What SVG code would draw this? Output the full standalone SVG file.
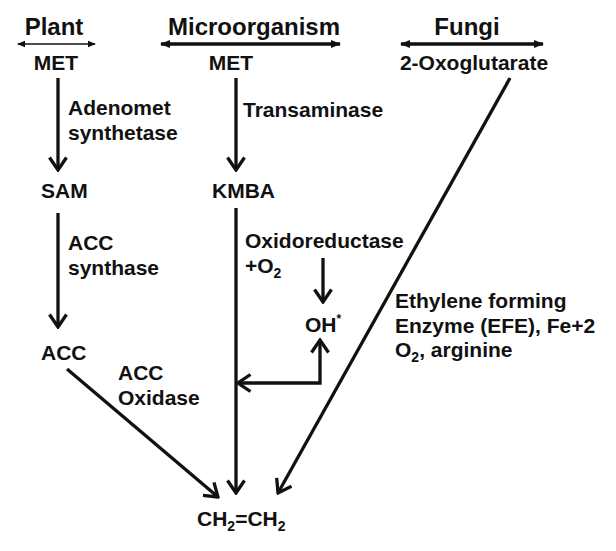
<svg xmlns="http://www.w3.org/2000/svg" width="616" height="551" viewBox="0 0 616 551">
<style>
text{font-family:"Liberation Sans",Arial,sans-serif;font-weight:bold;fill:#111;font-size:21px}
.h{font-size:24px;text-anchor:middle}
.c{text-anchor:middle}
.ln{fill:none;stroke:#111;stroke-width:3.3}
.sub{font-size:14px}
</style>
<defs>
<marker id="chev" markerUnits="userSpaceOnUse" viewBox="0 0 16 20" refX="14" refY="10" markerWidth="16" markerHeight="20" orient="auto-start-reverse">
<path d="M1.5,1.5 L14,10 L1.5,18.5" fill="none" stroke="#111" stroke-width="3.3"/>
</marker>
<marker id="tri" markerUnits="userSpaceOnUse" viewBox="0 0 10 10" refX="9" refY="5" markerWidth="10" markerHeight="10" orient="auto-start-reverse">
<path d="M0,1 L10,5 L0,9 Z" fill="#111"/>
</marker>
<marker id="trs" markerUnits="userSpaceOnUse" viewBox="0 0 8 8" refX="7" refY="4" markerWidth="8" markerHeight="8" orient="auto-start-reverse">
<path d="M0,0.8 L8,4 L0,7.2 Z" fill="#111"/>
</marker>
</defs>

<g id="headers">
<text class="h" x="54" y="35">Plant</text>
<text class="h" x="254" y="35">Microorganism</text>
<text class="h" x="467" y="35">Fungi</text>
</g>

<g id="connectors">
<line x1="18" y1="44" x2="95" y2="44" stroke="#111" stroke-width="1.6" marker-start="url(#trs)" marker-end="url(#trs)"/>
<line x1="161" y1="44" x2="340" y2="44" stroke="#111" stroke-width="3.5" marker-start="url(#tri)" marker-end="url(#tri)"/>
<line x1="401" y1="44" x2="543" y2="44" stroke="#111" stroke-width="3.5" marker-start="url(#tri)" marker-end="url(#tri)"/>

<path class="ln" d="M58,78 L58,170" marker-end="url(#chev)"/>
<path class="ln" d="M58,213 L58,327" marker-end="url(#chev)"/>
<path class="ln" d="M236,78 L236,170" marker-end="url(#chev)"/>
<path class="ln" d="M236,208 L236,493" marker-end="url(#chev)"/>
<path class="ln" d="M323,258 L323,302" marker-end="url(#chev)"/>
<path class="ln" d="M238,383 L320,383 L320,340" marker-start="url(#chev)" marker-end="url(#chev)"/>
<path class="ln" d="M67,369 L218,497" marker-end="url(#chev)"/>
<path class="ln" d="M510,78 L278,493" marker-end="url(#chev)"/>
</g>

<g id="plant-met"><text class="c" x="56" y="70">MET</text></g>
<g id="micro-met"><text class="c" x="231" y="70">MET</text></g>
<g id="oxoglutarate"><text class="c" x="474" y="70">2-Oxoglutarate</text></g>

<g id="adenomet-label">
<text x="68" y="115">Adenomet</text>
<text x="68" y="140">synthetase</text>
</g>
<g id="transaminase-label"><text x="243" y="117">Transaminase</text></g>

<g id="sam"><text x="41" y="198">SAM</text></g>
<g id="kmba"><text x="212" y="198">KMBA</text></g>

<g id="acc-synthase-label">
<text x="68" y="250">ACC</text>
<text x="68" y="275">synthase</text>
</g>
<g id="oxidoreductase-label">
<text x="245" y="248">Oxidoreductase</text>
<text x="245" y="273">+O<tspan class="sub" dy="5">2</tspan></text>
</g>

<g id="oh"><text x="305" y="332">OH<tspan font-size="12" dy="-9">*</tspan></text></g>

<g id="efe-label">
<text x="395" y="308">Ethylene forming</text>
<text x="395" y="333">Enzyme (EFE), Fe+2</text>
<text x="395" y="357">O<tspan class="sub" dy="5">2</tspan><tspan dy="-5">, arginine</tspan></text>
</g>

<g id="acc"><text x="41" y="360">ACC</text></g>
<g id="acc-oxidase-label">
<text x="118" y="380">ACC</text>
<text x="118" y="405">Oxidase</text>
</g>

<g id="ethylene"><text x="197" y="526">CH<tspan class="sub" dy="5">2</tspan><tspan dy="-5">=CH</tspan><tspan class="sub" dy="5">2</tspan></text></g>
</svg>
